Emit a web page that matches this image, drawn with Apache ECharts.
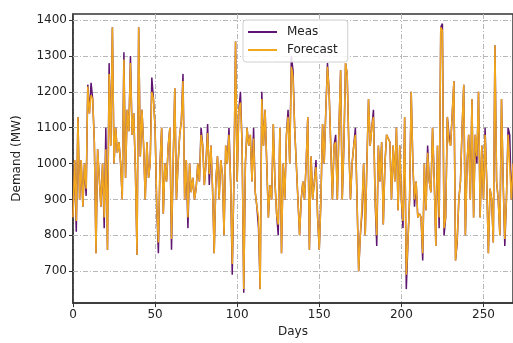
<!DOCTYPE html>
<html>
<head>
<meta charset="utf-8">
<script src="https://cdn.jsdelivr.net/npm/echarts@6/dist/echarts.min.js"></script>
<style>
  html, body { margin: 0; padding: 0; background: #fff; }
  #chart { width: 513px; height: 343px; }
</style>
</head>
<body>
<div id="chart"></div>
<script>
const measured = [
  850, 1010, 810, 1130, 900, 1010, 880, 1000, 910, 1220,
  1140, 1225, 1180, 1060, 750, 1040, 960, 880, 1000, 820,
  1100, 760, 1280, 1050, 1380, 1000, 1100, 1030, 1060, 1000,
  900, 1310, 960, 1150, 1090, 1300, 1080, 1140, 980, 745,
  1380, 1020, 1150, 1050, 900, 1060, 960, 1000, 1240, 1180,
  1100, 880, 750, 1000, 1100, 860, 1000, 950, 1050, 1100,
  760, 1000, 1210, 900, 1000, 1080, 1120, 1250, 900, 1010,
  820, 1000, 920, 960, 900, 930, 1000, 950, 1100, 1050,
  940, 1000, 1110, 940, 1050, 930, 750, 950, 1020, 900,
  1010, 970, 800, 1050, 1000, 1100, 950, 690, 950, 1340,
  950, 1150, 1200, 1050, 640, 1000, 1100, 1050, 1080, 950,
  1100, 920, 880, 820, 650, 1200, 1050, 1150, 1000, 850,
  940, 900, 1110, 950, 860, 800, 1100, 750, 1000, 900,
  1080, 1150, 1000, 1300, 1260, 1100, 1100, 900, 800, 900,
  950, 900, 1000, 1130, 760, 1020, 900, 950, 1010, 850,
  760, 900, 1110, 1000, 1150, 1280, 1200, 1050, 900, 1050,
  1080, 900, 1100, 1260, 900, 1050, 1280, 1250, 1050, 900,
  1000, 1050, 1100, 900, 700, 800, 860, 1000, 800, 1000,
  1180, 1050, 1100, 1150, 900, 770, 1050, 950, 1060, 830,
  1000, 1080, 1080, 1060, 900, 1050, 950, 1100, 870, 1050,
  900, 820, 1130, 650, 780, 900, 1200, 1000, 880, 950,
  850, 860, 850, 730, 1000, 870, 1050, 950, 920, 1100,
  960, 770, 1050, 820, 1380, 1390, 800, 850, 1130, 1080,
  1050, 1050, 1230, 730, 780, 900, 950, 1100, 1220, 800,
  1000, 1080, 900, 1180, 850, 1080, 1000, 1200, 850, 1050,
  900, 1100, 950, 750, 930, 900, 780, 1330, 950, 900,
  800, 1180, 950, 770, 900, 1100, 1080, 900, 1000, 940
];

const forecast = [
  850, 1010, 840, 1130, 900, 1010, 880, 1000, 930, 1215,
  1140, 1190, 1180, 1060, 750, 1040, 960, 880, 1000, 850,
  1040, 760, 1250, 1050, 1380, 1000, 1100, 1030, 1060, 1000,
  900, 1290, 960, 1150, 1090, 1280, 1080, 1140, 980, 745,
  1380, 1020, 1150, 1050, 900, 1060, 960, 1000, 1200, 1180,
  1100, 880, 780, 1000, 1100, 860, 1000, 950, 1050, 1100,
  790, 1000, 1210, 900, 1000, 1080, 1120, 1230, 900, 1010,
  850, 1000, 920, 960, 900, 930, 1000, 950, 1080, 1050,
  940, 1000, 1085, 970, 1050, 930, 750, 950, 1020, 900,
  1010, 970, 800, 1050, 1000, 1080, 950, 720, 950, 1340,
  950, 1150, 1170, 1050, 650, 1000, 1100, 1050, 1080, 950,
  1070, 920, 880, 850, 650, 1180, 1050, 1150, 1000, 850,
  940, 900, 1110, 950, 860, 830, 1100, 750, 1000, 900,
  1080, 1130, 1000, 1270, 1240, 1100, 1100, 900, 800, 900,
  950, 900, 1000, 1130, 760, 1020, 900, 950, 990, 850,
  760, 900, 1110, 1000, 1150, 1270, 1200, 1050, 900, 1050,
  1060, 900, 1100, 1260, 900, 1050, 1280, 1250, 1050, 900,
  1000, 1050, 1080, 900, 700, 800, 880, 1000, 800, 1000,
  1180, 1050, 1100, 1130, 900, 800, 1050, 950, 1060, 830,
  1000, 1080, 1080, 1060, 900, 1050, 950, 1100, 870, 1050,
  900, 840, 1130, 690, 780, 900, 1200, 1000, 900, 950,
  850, 860, 850, 750, 1000, 870, 1030, 950, 920, 1100,
  960, 770, 1050, 850, 1380, 1370, 820, 850, 1130, 1060,
  1050, 1050, 1230, 730, 790, 900, 950, 1100, 1220, 800,
  1000, 1080, 900, 1180, 850, 1080, 1020, 1200, 850, 1050,
  900, 1080, 950, 750, 930, 900, 780, 1330, 950, 900,
  800, 1180, 950, 790, 900, 1080, 1080, 900, 1000, 940
];

const days = measured.map((_, i) => i);
const yTicks = [700, 800, 900, 1000, 1100, 1200, 1300, 1400];

const FONT = 'DejaVu Sans';
const GRID_DASH = [5, 2, 1, 2];
const AXIS_COLOR = '#333';

const chart = echarts.init(document.getElementById('chart'), null, { renderer: 'canvas' });

chart.setOption({
  animation: false,
  backgroundColor: '#fff',
  textStyle: { fontFamily: FONT },
  grid: {
    left: 73,
    right: -2,
    top: 14,
    bottom: 39,
    show: true,
    borderColor: AXIS_COLOR,
    borderWidth: 1.5,
    backgroundColor: 'transparent',
  },
  legend: {
    orient: 'vertical',
    left: 243,
    top: 20,
    padding: [6, 10, 6, 5],
    itemGap: 6,
    itemWidth: 29,
    itemHeight: 2,
    icon: 'rect',
    backgroundColor: 'rgba(255,255,255,0.85)',
    borderColor: '#d0d0d0',
    borderWidth: 1,
    borderRadius: 3,
    textStyle: { fontFamily: FONT, fontSize: 12, color: '#222', padding: [0, 0, 0, 5] },
    data: ['Meas', 'Forecast'],
  },
  xAxis: {
    type: 'value',
    min: 0,
    max: 268,
    interval: 50,
    name: 'Days',
    nameLocation: 'middle',
    nameGap: 22,
    nameTextStyle: { fontFamily: FONT, fontSize: 12, color: '#222' },
    axisLine: { show: true, lineStyle: { color: AXIS_COLOR, width: 1.5 } },
    axisTick: { show: true, length: 4, lineStyle: { color: AXIS_COLOR } },
    axisLabel: { fontFamily: FONT, fontSize: 12, color: '#222', margin: 6, showMaxLabel: false },
    splitLine: { show: true, lineStyle: { color: '#b8b8b8', width: 1, type: GRID_DASH } },
  },
  yAxis: {
    type: 'value',
    min: 611,
    max: 1417,
    name: 'Demand (MW)',
    nameLocation: 'middle',
    nameGap: 50,
    nameTextStyle: { fontFamily: FONT, fontSize: 12, color: '#222' },
    axisLine: { show: true, lineStyle: { color: AXIS_COLOR, width: 1.5 } },
    axisTick: { show: true, length: 4, customValues: yTicks, lineStyle: { color: AXIS_COLOR } },
    axisLabel: {
      fontFamily: FONT,
      fontSize: 12,
      color: '#222',
      margin: 6,
      customValues: yTicks,
      formatter: (v) => String(v),
    },
    splitLine: { show: false },
  },
  series: [
    {
      name: 'Meas',
      type: 'line',
      data: days.map((d, i) => [d, measured[i]]),
      showSymbol: false,
      color: '#5e1470',
      lineStyle: { width: 1.5, color: '#5e1470' },
      z: 2,
      markLine: {
        silent: true,
        symbol: 'none',
        label: { show: false },
        lineStyle: { color: '#b8b8b8', width: 1, type: GRID_DASH },
        data: yTicks.map((v) => ({ yAxis: v })),
        z: 1,
      },
    },
    {
      name: 'Forecast',
      type: 'line',
      data: days.map((d, i) => [d, forecast[i]]),
      showSymbol: false,
      color: '#f2a81d',
      lineStyle: { width: 1.5, color: '#f2a81d' },
      z: 3,
    },
  ],
});
</script>
</body>
</html>
